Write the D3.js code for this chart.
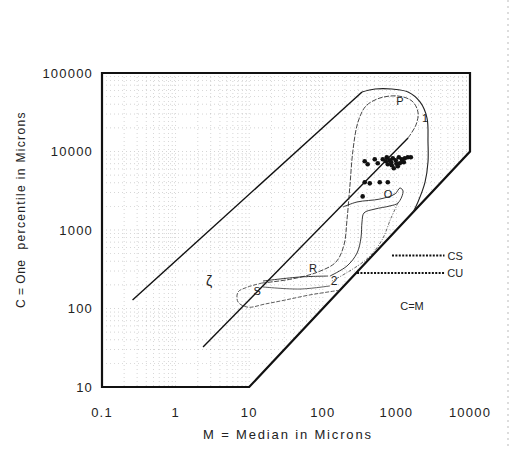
<!DOCTYPE html>
<html>
<head>
<meta charset="utf-8">
<script src="https://cdn.jsdelivr.net/npm/d3@7"></script>
<style>
  body { margin: 0; background: #fff; }
  svg { display: block; }
  text { font-family: "Liberation Sans", Arial, sans-serif; fill: #222; }
</style>
</head>
<body>
<div id="chart"></div>
<script>
// tick values + labels
const xTicks = [0.1, 1, 10, 100, 1000, 10000];
const xTickLabels = ["0.1", "1", "10", "100", "1000", "10000"];
const yTicks = [10, 100, 1000, 10000, 100000];
const yTickLabels = ["10", "100", "1000", "10000", "100000"];

// frame of the diagram (M, C) - the diagonal is C = M
const frameM = [0.1, 10000, 10000, 10, 0.1];
const frameC = [100000, 100000, 10000, 10, 10];

// the two straight lines
const lineAM = [0.26, 341];
const lineAC = [128, 57300];
const lineBM = [2.36, 1439];
const lineBC = [32.4, 14900];

// outer envelope "1" (top + right side, runs into C = M)
const env1M = [341, 512, 871, 1439, 2094, 2606, 2687, 2687, 2449, 1963, 1683];
const env1C = [57300, 62500, 62500, 57300, 42800, 26700, 13200, 7350, 4080, 2275, 1683];

// lower envelope from C = M round S
const envLowM = [171, 67, 30.6, 16.4, 9.6, 7.05, 7.05, 9.6, 14.9];
const envLowC = [171, 149, 128, 114, 104, 121, 162, 188, 211];

// P contour, from top of line B round P and down through R to S
const contPM = [1439, 1845, 1963, 1630, 1052, 598, 386, 301, 257, 234, 213, 194, 151, 86, 38.2, 14.9];
const contPC = [14900, 21800, 31800, 43900, 50900, 48000, 38000, 23800, 10400, 3740, 1340, 644, 391, 292, 238, 211];

// O loop (hook running down to 2)
const contOM = [125, 213, 292, 330, 341, 363, 512, 818, 1052, 1230, 1119, 957, 598, 292, 188];
const contOC = [259, 348, 509, 791, 1265, 1650, 1850, 2025, 2210, 3140, 3430, 2880, 2480, 2275, 1963];

// second branch from O down to 2
const branchOM = [1052, 845, 637, 411, 220, 133];
const branchOC = [2210, 1422, 746, 440, 292, 224];

// the two lines S -> 2
const two1M = [15.4, 49, 118];
const two1C = [224, 252, 259];
const two2M = [15.4, 49, 125];
const two2C = [188, 177, 194];

// samples
const dotM = [371, 407, 508, 558, 653, 740, 813, 893, 982, 1079, 1186, 1302, 1430, 1571,
              764, 865, 922, 1112, 717, 1045, 1262, 1000, 850, 1200,
              371, 435, 594, 764, 348];
const dotC = [7500, 6870, 7960, 7080, 7960, 8450, 7730, 8200, 7730, 8450, 7960, 8200, 8450, 8450,
              6870, 6670, 6110, 7080, 7500, 6480, 7290, 7000, 7300, 7600,
              4050, 3930, 4050, 4050, 2680];

// CS / CU limits
const csM = [871, 4500];
const csC = [472, 472];
const cuM = [292, 4500];
const cuC = [283, 283];

// labels inside the diagram
const labelText = ["P", "1", "O", "R", "2", "S", "ζ", "CS", "CU", "C=M"];
const labelM = [1120, 2450, 769, 73.6, 142, 12.8, 2.85, 6300, 6300, 1630];
const labelC = [44000, 26700, 2880, 328, 224, 167, 224, 472, 283, 108];
const labelSize = [11, 11, 11, 11, 12, 11, 14, 11, 11, 11];

let width = 512, height = 450;

let svg = d3.select('#chart').append('svg')
    .attr('width', width)
    .attr('height', height);

let x = d3.scaleLog().domain([0.1, 10000]).range([102, 470]);
let y = d3.scaleLog().domain([10, 100000]).range([387, 73]);

let pts = (ms, cs) => ms.map((m, i) => [x(m), y(cs[i])]);
let straight = d3.line();
let smooth = d3.line().curve(d3.curveCatmullRom.alpha(0.5));

// clip the grid to the frame
svg.append('clipPath').attr('id', 'frameclip')
    .append('path')
    .attr('d', straight(pts(frameM, frameC)) + 'Z');

// log paper grid
let grid = svg.append('g').attr('clip-path', 'url(#frameclip)');
grid.selectAll('line.gx')
    .data(x.ticks())
    .enter().append('line')
    .attr('class', 'gx')
    .attr('x1', d => x(d)).attr('x2', d => x(d))
    .attr('y1', 73).attr('y2', 387)
    .style('stroke', '#888')
    .style('stroke-width', 0.7)
    .style('stroke-dasharray', '1,3')
    .style('opacity', 0.5);
grid.selectAll('line.gy')
    .data(y.ticks())
    .enter().append('line')
    .attr('class', 'gy')
    .attr('y1', d => y(d)).attr('y2', d => y(d))
    .attr('x1', 102).attr('x2', 470)
    .style('stroke', '#888')
    .style('stroke-width', 0.7)
    .style('stroke-dasharray', '1,3')
    .style('opacity', 0.5);

// frame
svg.append('path')
    .attr('d', straight(pts(frameM, frameC)) + 'Z')
    .attr('fill', 'none')
    .attr('stroke', '#111')
    .attr('stroke-width', 2.2)
    .attr('stroke-linejoin', 'miter');

// straight lines A and B
svg.append('path')
    .attr('d', straight(pts(lineAM, lineAC)))
    .attr('fill', 'none').attr('stroke', '#111').attr('stroke-width', 1.4);
svg.append('path')
    .attr('d', straight(pts(lineBM, lineBC)))
    .attr('fill', 'none').attr('stroke', '#111').attr('stroke-width', 1.4);

// contours
svg.append('path')
    .attr('d', smooth(pts(env1M, env1C)))
    .attr('fill', 'none').attr('stroke', '#222').attr('stroke-width', 1.1);
svg.append('path')
    .attr('d', smooth(pts(envLowM, envLowC)))
    .attr('fill', 'none').attr('stroke', '#333').attr('stroke-width', 0.8)
    .attr('stroke-dasharray', '4,1.5');
svg.append('path')
    .attr('d', smooth(pts(contPM, contPC)))
    .attr('fill', 'none').attr('stroke', '#333').attr('stroke-width', 0.9)
    .attr('stroke-dasharray', '5,1.5');
svg.append('path')
    .attr('d', smooth(pts(contOM, contOC)))
    .attr('fill', 'none').attr('stroke', '#222').attr('stroke-width', 0.9);
svg.append('path')
    .attr('d', smooth(pts(branchOM, branchOC)))
    .attr('fill', 'none').attr('stroke', '#444').attr('stroke-width', 0.8)
    .attr('stroke-dasharray', '3,1.5,1,1.5');
svg.append('path')
    .attr('d', smooth(pts(two1M, two1C)))
    .attr('fill', 'none').attr('stroke', '#222').attr('stroke-width', 0.9);
svg.append('path')
    .attr('d', smooth(pts(two2M, two2C)))
    .attr('fill', 'none').attr('stroke', '#333').attr('stroke-width', 0.8);

// CS and CU dotted lines
[[csM, csC], [cuM, cuC]].forEach(l => {
    svg.append('path')
        .attr('d', straight(pts(l[0], l[1])))
        .attr('fill', 'none').attr('stroke', '#111')
        .attr('stroke-width', 2)
        .attr('stroke-dasharray', '2,1.4');
});

// samples
svg.selectAll('circle.dot')
    .data(dotM)
    .enter().append('circle')
    .attr('class', 'dot')
    .attr('cx', (d, i) => x(d))
    .attr('cy', (d, i) => y(dotC[i]))
    .attr('r', 2.3)
    .attr('fill', '#111');

// labels
svg.selectAll('text.lab')
    .data(labelText)
    .enter().append('text')
    .attr('class', 'lab')
    .attr('x', (d, i) => x(labelM[i]))
    .attr('y', (d, i) => y(labelC[i]))
    .attr('text-anchor', 'middle')
    .attr('dominant-baseline', 'central')
    .style('font-size', (d, i) => labelSize[i] + 'px')
    .text(d => d);

// tick labels
svg.selectAll('text.xt')
    .data(xTicks)
    .enter().append('text')
    .attr('class', 'xt')
    .attr('x', d => x(d))
    .attr('y', 412)
    .attr('text-anchor', 'middle')
    .attr('dominant-baseline', 'central')
    .style('font-size', '13px')
    .style('letter-spacing', '1.2px')
    .text((d, i) => xTickLabels[i]);
svg.selectAll('text.yt')
    .data(yTicks)
    .enter().append('text')
    .attr('class', 'yt')
    .attr('x', 93)
    .attr('y', d => y(d))
    .attr('text-anchor', 'end')
    .attr('dominant-baseline', 'central')
    .style('font-size', '13px')
    .style('letter-spacing', '1.2px')
    .text((d, i) => yTickLabels[i]);

// axis titles
svg.append('text')
    .attr('x', 287).attr('y', 434)
    .attr('text-anchor', 'middle')
    .attr('dominant-baseline', 'central')
    .style('font-size', '13px')
    .attr('textLength', 168)
    .text('M = Median in Microns');
svg.append('text')
    .attr('transform', 'translate(21,284) rotate(-90)')
    .attr('text-anchor', 'middle')
    .attr('dominant-baseline', 'central')
    .style('font-size', '12px')
    .attr('textLength', 48)
    .text('C = One');
svg.append('text')
    .attr('transform', 'translate(21,181) rotate(-90)')
    .attr('text-anchor', 'middle')
    .attr('dominant-baseline', 'central')
    .style('font-size', '12px')
    .attr('textLength', 137)
    .text('percentile in Microns');

// page edge of the scan
svg.append('line')
    .attr('x1', 508).attr('x2', 508)
    .attr('y1', 0).attr('y2', height)
    .style('stroke', '#bbb')
    .style('stroke-dasharray', '2,4');
</script>
</body>
</html>
